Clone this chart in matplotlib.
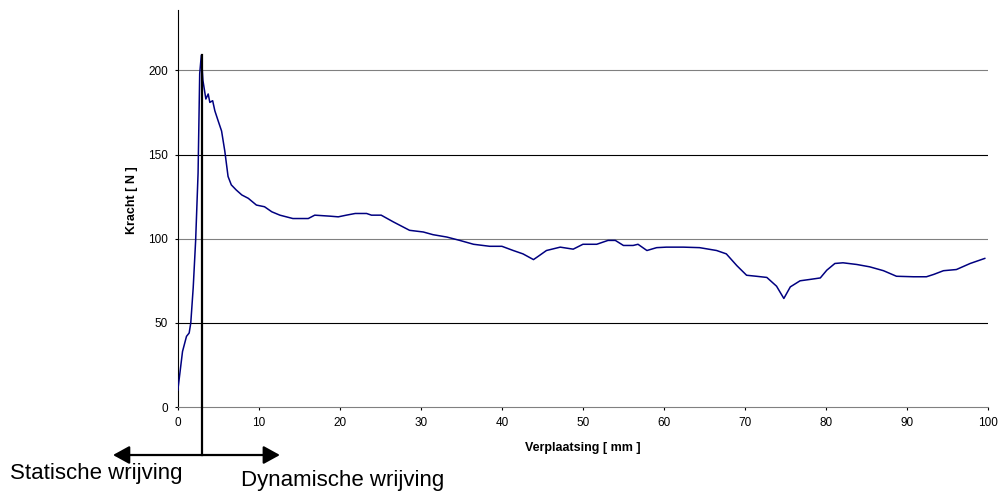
import matplotlib
matplotlib.use("Agg")
import matplotlib.pyplot as plt

plt.rcParams["font.family"] = ["Liberation Sans", "DejaVu Sans"]

# verplaatsing [mm] en kracht [N]
verplaatsing = [0.0, 0.58, 1.07, 1.4, 1.6, 1.9, 2.2, 2.5, 2.7, 2.9, 3.1, 3.46, 3.75, 3.95,
                4.3, 4.57, 4.98, 5.4, 5.8, 6.2, 6.6, 7.2, 7.9, 8.7, 9.7, 10.7, 11.6, 12.6,
                14.2, 16.1, 16.9, 18.8, 19.8, 20.8, 21.9, 23.3, 23.9, 25.1, 26.6, 27.8,
                28.6, 30.3, 31.5, 33.2, 34.8, 36.5, 38.5, 40.0, 41.4, 42.6, 43.9, 44.5,
                45.5, 47.2, 48.8, 50.0, 51.7, 53.1, 54.0, 55.0, 56.2, 56.8, 57.9, 59.1,
                60.3, 62.4, 64.4, 66.5, 67.7, 69.0, 70.2, 71.4, 72.7, 73.9, 74.8, 75.6,
                76.8, 78.0, 79.3, 80.1, 81.1, 82.1, 83.8, 85.4, 87.1, 88.7, 90.8, 92.4,
                93.3, 94.5, 96.1, 97.8, 99.6]
kracht = [10, 33, 42, 44, 50, 71, 99, 139, 198, 209, 194, 183, 186, 181,
          182, 176, 170, 164, 152, 137, 132, 129, 126, 124, 120, 119, 116, 114,
          112, 112, 114, 113.4, 113, 114, 115, 115, 114, 114, 110, 107,
          105, 104, 102.4, 101, 99, 96.7, 95.5, 95.5, 93, 91, 87.6, 89.6,
          93, 95, 93.8, 96.7, 96.7, 99, 99, 96, 96, 96.7, 93, 94.7,
          95, 95, 94.7, 93, 91, 84, 78.3, 77.7, 77, 71.8, 64.5, 71.4,
          75, 75.8, 76.7, 81.3, 85.3, 85.7, 84.7, 83.3, 81, 77.7, 77.4, 77.4,
          78.8, 81, 81.7, 85.3, 88.3]

x_overgang = 3.0      # overgang statisch -> dynamisch
piek = 209

fig = plt.figure(figsize=(9.99, 4.91), dpi=100)
ax = fig.add_axes([0.178, 0.171, 0.811, 0.809])

for y, kleur in [(50, "black"), (100, "#808080"), (150, "black"), (200, "#808080")]:
    ax.axhline(y, color=kleur, lw=0.8, zorder=1)

ax.plot(verplaatsing, kracht, color="#000080", lw=1.1, zorder=3)

ax.set_xlim(0, 100)
ax.set_ylim(0, 236)
ax.set_xticks(range(0, 101, 10))
ax.set_yticks(range(0, 201, 50))
ax.tick_params(labelsize=8.5, length=2.5, width=0.8, direction="out", pad=4.5)
for s in ["top", "right"]:
    ax.spines[s].set_visible(False)
ax.spines["bottom"].set_color("#808080")
ax.spines["left"].set_linewidth(0.8)
ax.set_xlabel("Verplaatsing [ mm ]", fontsize=9, fontweight="bold")
ax.set_ylabel("Kracht [ N ]", fontsize=9, fontweight="bold")
ax.xaxis.set_label_coords(0.5, -0.087)
ax.yaxis.set_label_coords(-0.049, 0.521)

# verticale lijn bij de piek en pijlen
y_pijl = -28.5
ax.plot([x_overgang, x_overgang], [piek, y_pijl], color="black", lw=1.6,
        clip_on=False, zorder=4)
for x_eind in (-8.0, 12.6):
    ax.annotate("", xy=(x_eind, y_pijl), xytext=(x_overgang, y_pijl),
                xycoords="data", annotation_clip=False,
                arrowprops=dict(arrowstyle="-|>,head_length=1.0,head_width=0.55",
                                color="black", lw=1.6, shrinkA=0, shrinkB=0))

fig.text(10 / 999, 1 - 479 / 491, "Statische wrijving", fontsize=16, va="baseline")
fig.text(241 / 999, 1 - 486 / 491, "Dynamische wrijving", fontsize=16, va="baseline")

fig.savefig("out.png", dpi=100)
